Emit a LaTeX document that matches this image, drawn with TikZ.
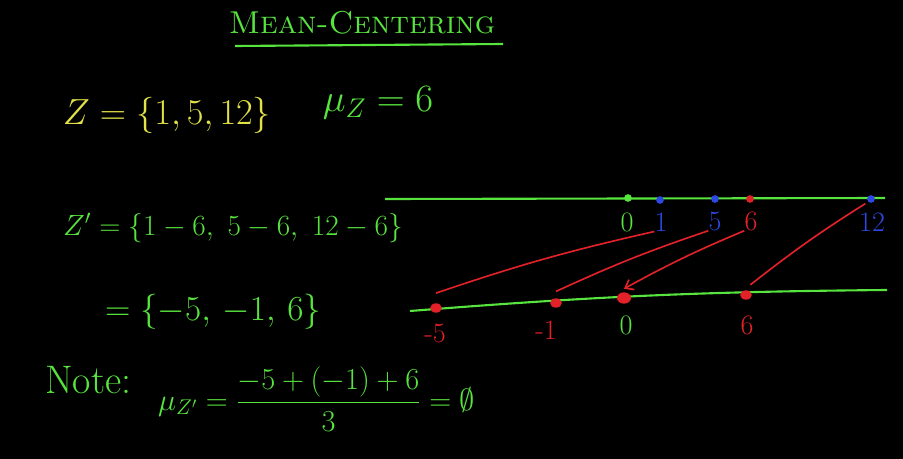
\RequirePackage{fix-cm}
\documentclass[tikz,border=0pt]{standalone}
\usepackage{amsmath,amssymb}
\usepackage{tikz}
\usetikzlibrary{arrows.meta,shapes.geometric}
\definecolor{chalkgreen}{RGB}{88,228,62}
\definecolor{chalkyellow}{RGB}{226,226,72}
\definecolor{chalkblue}{RGB}{45,72,228}
\definecolor{chalkred}{RGB}{226,34,40}
\tikzset{
  axisline/.style = {chalkgreen,line width=1.8pt},
  mapline/.style  = {chalkred,line width=1.4pt},
  maparr/.style   = {mapline,-{Straight Barb[length=2.2mm,width=3.4mm]}},
  topdot/.style   = {circle,fill,inner sep=0pt,minimum size=2.3mm},
  botdot/.style   = {ellipse,fill=chalkred,inner sep=0pt,minimum width=3.5mm,minimum height=2.8mm},
  numlbl/.style   = {font=\fontsize{24}{28}\selectfont,inner sep=0pt},
  bigtxt/.style   = {font=\fontsize{31}{36}\selectfont,inner sep=0pt}
}
\begin{document}
\begin{tikzpicture}[x=0.03cm,y=-0.03cm]
  \fill[black] (0,0) rectangle (903,459);
  \useasboundingbox (0,0) rectangle (903,459);
  % heading
  \node[chalkgreen,font=\fontsize{27}{32}\selectfont,inner sep=0pt] (title) at (362,23) {\textsc{Mean-Centering}};
  \draw[axisline] (235,46) -- (503,44);
  % the set and its mean
  \node[bigtxt,chalkyellow] (zset) at (167,115) {$Z=\{1,5,12\}$};
  \node[bigtxt,chalkgreen,font=\fontsize{33}{38}\selectfont] (muz) at (378,103) {$\mu_Z=6$};
  \node[bigtxt,chalkgreen,anchor=west,font=\fontsize{25}{30}\selectfont] (zprime) at (63,228) {$Z'=\{1-6,\ 5-6,\ 12-6\}$};
  \node[bigtxt,chalkgreen,anchor=west,font=\fontsize{30}{36}\selectfont] (zres) at (105,312) {$=\{-5,\,-1,\,6\}$};
  \node[chalkgreen,font=\fontsize{34}{38}\selectfont,inner sep=0pt,anchor=west] (note) at (45,380) {Note:};
  \node[chalkgreen,font=\fontsize{26}{30}\selectfont,inner sep=0pt,anchor=west] (mean) at (158,399)
    {$\mu_{Z'}=\dfrac{-5+(-1)+6}{3}=\emptyset$};

  % number lines
  \draw[axisline] (385,199) -- (885,198);
  \draw[axisline] (410,311) to[bend left=2] (887,290);

  \node[topdot,chalkgreen] (d0)  at (628,198) {};
  \node[topdot,chalkblue]  (d1)  at (660,200) {};
  \node[topdot,chalkblue]  (d5)  at (715,199) {};
  \node[topdot,chalkred]   (d6)  at (750,199) {};
  \node[topdot,chalkblue]  (d12) at (871,199) {};
  \node[numlbl,chalkgreen] (t0)  at (627,222) {0};
  \node[numlbl,chalkblue]  (t1)  at (661,222) {1};
  \node[numlbl,chalkblue]  (t5)  at (715,221) {5};
  \node[numlbl,chalkred]   (t6)  at (751,221) {6};
  \node[numlbl,chalkblue]  (t12) at (872,222) {12};

  \node[botdot] (m5) at (436,308) {};
  \node[botdot] (m1) at (556,303) {};
  \node[botdot,minimum width=4.2mm,minimum height=3.4mm] (z0) at (624,298) {};
  \node[botdot] (p6) at (746,295) {};
  \node[numlbl,chalkred]   (lm5) at (435,333) {-5};
  \node[numlbl,chalkred]   (lm1) at (546,330) {-1};
  \node[numlbl,chalkgreen] (lz0) at (626,325) {0};
  \node[numlbl,chalkred]   (lp6) at (747,325) {6};

  % shifting each value by the mean
  \draw[mapline] (t1.south west) to[bend right=3] ([yshift=3mm]m5.north);
  \draw[mapline] (t5.south west) to[bend right=3] ([yshift=2mm]m1.north);
  \draw[maparr]  (t6.south west) to[bend right=3] ([yshift=1mm]z0.north);
  \draw[mapline,shorten <=1mm] (d12.south west) to[bend right=3] ([yshift=2mm]p6.north east);
\end{tikzpicture}
\end{document}
